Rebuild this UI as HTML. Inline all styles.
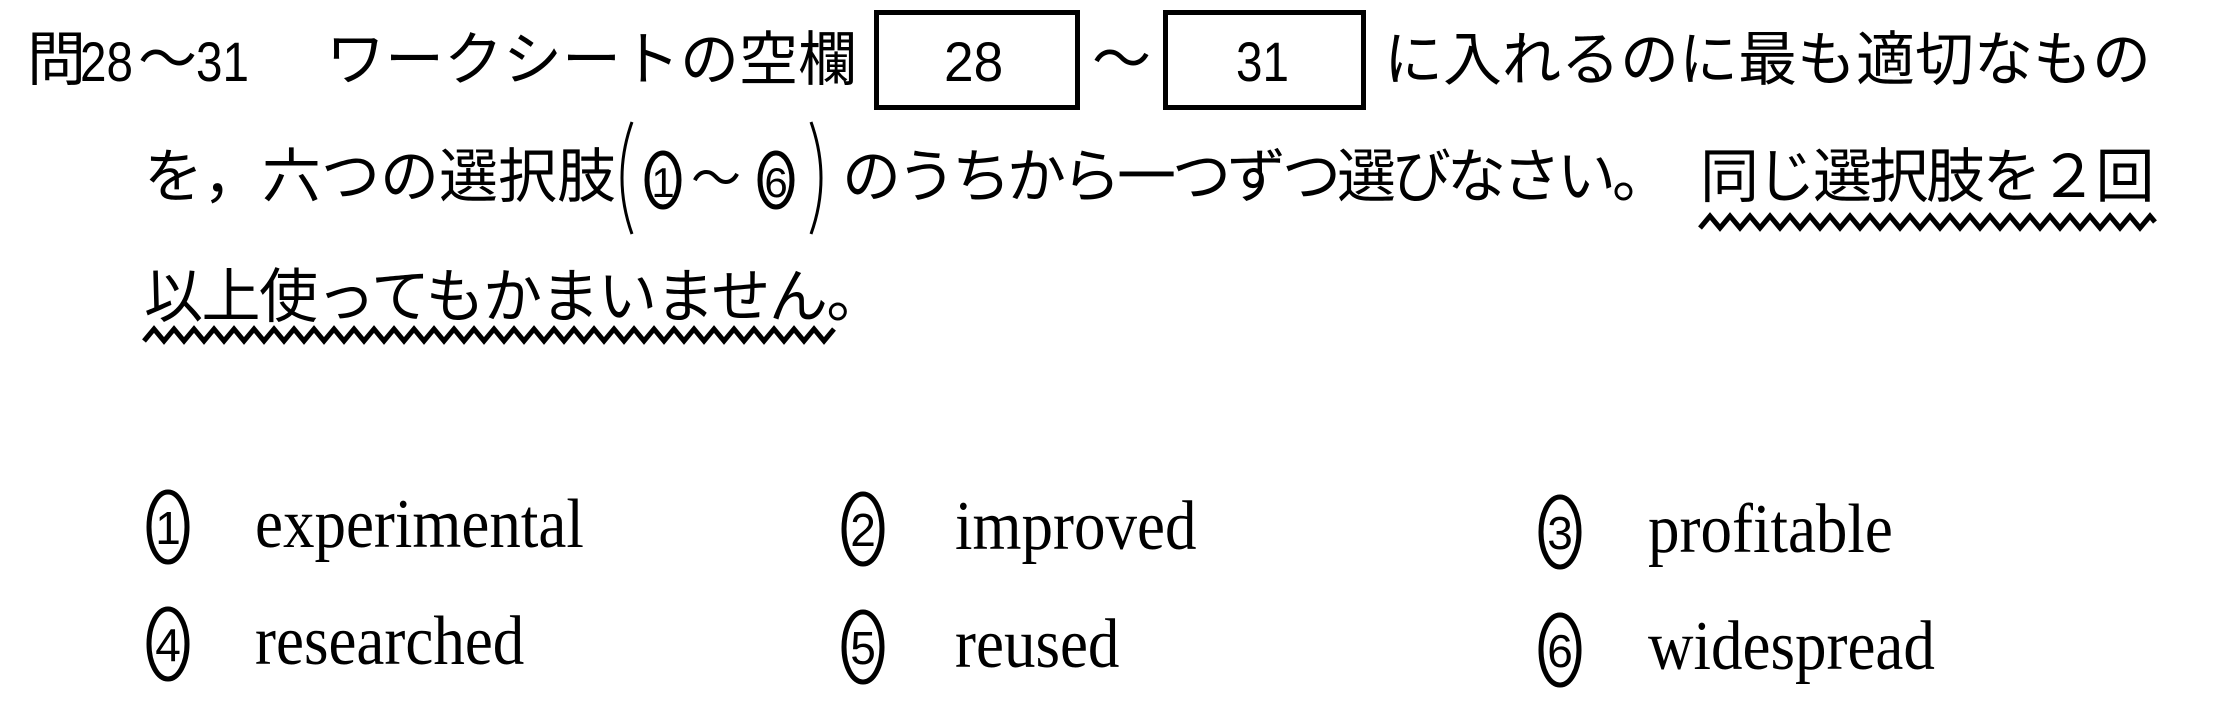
<!DOCTYPE html>
<html><head><meta charset="utf-8">
<style>
html,body{margin:0;padding:0;background:#fff;}
#c{position:relative;width:2218px;height:720px;overflow:hidden;background:#fff;color:#000;}
.j{position:absolute;font-family:"Liberation Sans","Noto Sans CJK JP",sans-serif;font-size:59px;line-height:59px;white-space:nowrap;letter-spacing:0;}
.n{position:absolute;font-family:"Liberation Sans",sans-serif;font-size:56px;line-height:56px;white-space:nowrap;}
.box{position:absolute;border:5px solid #000;box-sizing:border-box;}
.w{position:absolute;font-family:"Liberation Serif",serif;font-size:70px;line-height:70px;white-space:nowrap;transform-origin:left bottom;transform:scaleX(0.9);}
svg{position:absolute;left:0;top:0;}
</style></head><body><div id="c">
<div class="j" style="left:27px;top:31px;">問</div>
<div class="n" style="left:80px;top:34px;transform:scaleX(0.85);transform-origin:left;">28</div>
<div class="j" style="left:138px;top:31px;">～</div>
<div class="n" style="left:196px;top:34px;transform:scaleX(0.85);transform-origin:left;">31</div>
<div class="j" style="left:326px;top:31px;">ワークシートの空欄</div>
<div class="box" style="left:874px;top:10px;width:206px;height:100px;"></div>
<div class="n" style="left:944px;top:34px;transform:scaleX(0.95);transform-origin:left;">28</div>
<div class="j" style="left:1092px;top:31px;">～</div>
<div class="box" style="left:1163px;top:10px;width:203px;height:100px;"></div>
<div class="n" style="left:1236px;top:34px;transform:scaleX(0.85);transform-origin:left;">31</div>
<div class="j" style="left:1384px;top:31px;">に入れるのに最も適切なもの</div>

<div class="j" style="left:144px;top:148px;">を，六つの選択肢</div>
<div class="j" style="left:842px;top:148px;letter-spacing:-4px;">のうちから一つずつ選びなさい。</div>
<div class="j" style="left:1700px;top:148px;letter-spacing:-2.5px;">同じ選択肢を２回</div>
<div class="j" style="left:144px;top:268px;letter-spacing:-1.5px;">以上使ってもかまいません。</div>

<svg width="2218" height="720" viewBox="0 0 2218 720">
<g fill="none" stroke="#000">
<path d="M632 122 Q612 178 632 234" stroke-width="3"/>
<path d="M811 122 Q831 178 811 234" stroke-width="3"/>
<ellipse cx="663" cy="180" rx="16" ry="27" stroke-width="5"/>
<ellipse cx="776" cy="180" rx="16" ry="27" stroke-width="5"/>
</g>
<text x="663" y="197" font-family="Liberation Sans" font-size="42" text-anchor="middle">1</text>
<text x="691" y="196" font-family="Liberation Sans,Noto Sans CJK JP" font-size="50">～</text>
<text x="776" y="197" font-family="Liberation Sans" font-size="42" text-anchor="middle">6</text>
<polyline fill="none" stroke="#000" stroke-width="5" points="1700,228 1710,216 1720,228 1730,216 1740,228 1750,216 1760,228 1770,216 1780,228 1790,216 1800,228 1810,216 1820,228 1830,216 1840,228 1850,216 1860,228 1870,216 1880,228 1890,216 1900,228 1910,216 1920,228 1930,216 1940,228 1950,216 1960,228 1970,216 1980,228 1990,216 2000,228 2010,216 2020,228 2030,216 2040,228 2050,216 2060,228 2070,216 2080,228 2090,216 2100,228 2110,216 2120,228 2130,216 2140,228 2150,216 2155,222"/>
<polyline fill="none" stroke="#000" stroke-width="5" points="144,341 154,329 164,341 174,329 184,341 194,329 204,341 214,329 224,341 234,329 244,341 254,329 264,341 274,329 284,341 294,329 304,341 314,329 324,341 334,329 344,341 354,329 364,341 374,329 384,341 394,329 404,341 414,329 424,341 434,329 444,341 454,329 464,341 474,329 484,341 494,329 504,341 514,329 524,341 534,329 544,341 554,329 564,341 574,329 584,341 594,329 604,341 614,329 624,341 634,329 644,341 654,329 664,341 674,329 684,341 694,329 704,341 714,329 724,341 734,329 744,341 754,329 764,341 774,329 784,341 794,329 804,341 814,329 824,341 834,329"/>
<g fill="none" stroke="#000" stroke-width="5">
<ellipse cx="168" cy="527" rx="19" ry="35"/>
<ellipse cx="863" cy="529" rx="19" ry="35"/>
<ellipse cx="1560" cy="532" rx="19" ry="35"/>
<ellipse cx="168" cy="644" rx="19" ry="35"/>
<ellipse cx="863" cy="647" rx="19" ry="35"/>
<ellipse cx="1560" cy="650" rx="19" ry="35"/>
</g>
<g font-family="Liberation Sans" font-size="46" text-anchor="middle">
<text x="168" y="544">1</text>
<text x="863" y="546">2</text>
<text x="1560" y="549">3</text>
<text x="168" y="661">4</text>
<text x="863" y="664">5</text>
<text x="1560" y="667">6</text>
</g>
</svg>

<div class="w" style="left:255px;top:490px;">experimental</div>
<div class="w" style="left:955px;top:492px;">improved</div>
<div class="w" style="left:1648px;top:495px;">profitable</div>
<div class="w" style="left:255px;top:607px;">researched</div>
<div class="w" style="left:955px;top:610px;">reused</div>
<div class="w" style="left:1648px;top:612px;">widespread</div>
</div></body></html>
